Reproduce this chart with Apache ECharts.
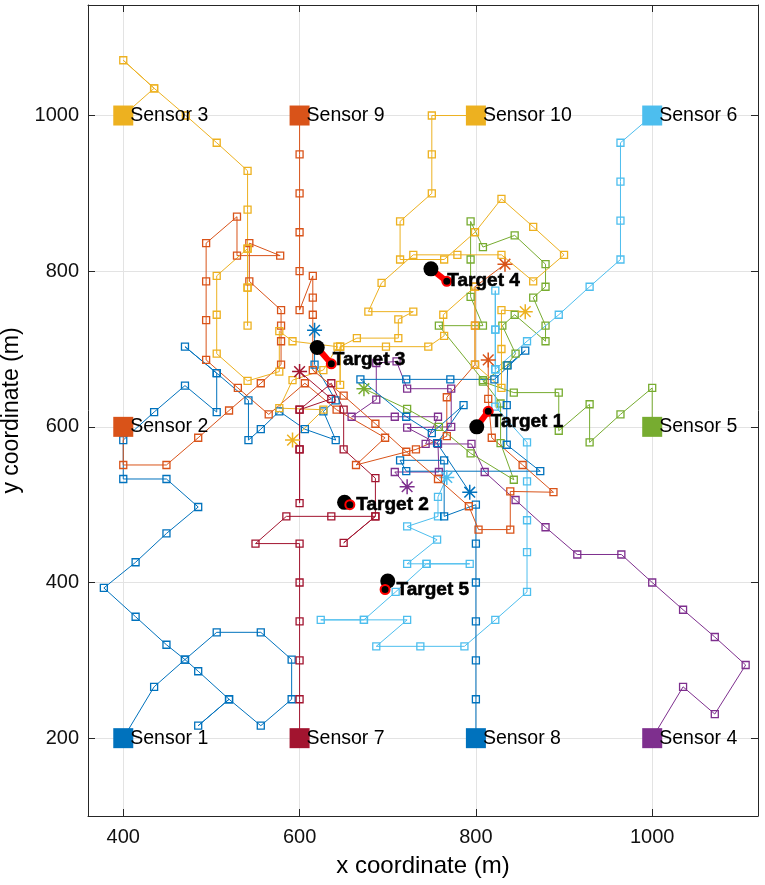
<!DOCTYPE html>
<html>
<head>
<meta charset="utf-8">
<script src="https://cdn.jsdelivr.net/npm/echarts@6/dist/echarts.min.js"></script>
<style>
html, body { margin: 0; padding: 0; background: #fff; }
#main { width: 765px; height: 885px; }
</style>
</head>
<body>
<div id="main"></div>
<script>
// 坐标轴刻度
var xTicks = [400, 600, 800, 1000];
var yTicks = [200, 400, 600, 800, 1000];

// 传感器位置
var sensorNames = ['Sensor 1', 'Sensor 2', 'Sensor 3', 'Sensor 4', 'Sensor 5',
	'Sensor 6', 'Sensor 7', 'Sensor 8', 'Sensor 9', 'Sensor 10'];
var sensorX = [400, 400, 400, 1000, 1000, 1000, 600, 800, 600, 800];
var sensorY = [200, 600, 1000, 200, 600, 1000, 200, 200, 1000, 1000];
var sensorColors = ['#0072BD', '#D95319', '#EDB120', '#7E2F8E', '#77AC30',
	'#4DBEEE', '#A2142F', '#0072BD', '#D95319', '#EDB120'];

// 传感器轨迹 (最后一个点为终点)
var path1 = [[400,200],[435,266],[470,301],[506,336],[556,336],[591,301],[591,250],[556,216],[520,250],[485,216],[520,250],[485,286],[470,301],[449,320],[414,356],[378,393],[414,426],[449,463],[485,497],[449,533],[400,533],[400,583],[435,619],[470,653],[506,619],[506,669],[470,703],[506,669],[542,634],[542,583],[556,597],[577,620],[606,597],[641,583],[627,620],[641,634],[617,680],[617,724]];
var path2 = [[400,600],[400,551],[449,551],[485,586],[520,621],[556,656],[579,680],[579,710],[579,730],[579,750],[543,787],[543,836],[578,820],[529,820],[529,870],[494,836],[494,787],[494,737],[494,686],[530,650],[565,616],[606,656],[642,622],[697,586],[664,551],[732,571],[767,588],[767,638],[799,680],[799,730],[799,780],[833,809]];
var path3 = [[400,1000],[435,1035],[400,1071],[435,1035],[471,1000],[506,965],[541,929],[541,879],[541,829],[541,779],[541,730],[541,779],[541,829],[506,794],[506,744],[506,694],[541,659],[577,671],[577,723],[592,710],[643,703],[627,673],[592,660],[577,624],[627,622],[592,583]];
var path4 = [[1000,200],[1035,266],[1071,231],[1106,294],[1071,330],[1035,365],[1000,400],[965,436],[915,436],[879,471],[845,506],[810,542],[795,578],[743,578],[757,613],[708,613],[659,613],[687,635],[687,682],[710,684],[722,649],[772,649],[772,600],[722,599],[757,578],[758,542],[708,542],[722,523]];
var path5 = [[1000,600],[1000,650],[964,616],[929,580],[929,629],[894,595],[894,644],[843,644],[808,658],[835,679],[845,694],[830,730],[844,744],[879,710],[879,730],[865,766],[879,780],[879,809],[844,846],[808,831],[794,864],[794,815],[794,767],[808,730],[758,730],[808,660],[828,630],[828,579],[843,532],[794,566],[758,600],[722,623],[673,649]];
var path6 = [[1000,1000],[964,965],[964,915],[964,865],[964,815],[929,780],[894,744],[858,710],[822,674],[822,725],[822,775],[822,725],[822,674],[822,626],[858,580],[858,530],[858,480],[858,439],[858,388],[822,352],[787,318],[737,318],[687,318],[722,352],[673,352],[624,352],[673,352],[709,388],[744,424],[793,424],[744,424],[722,424],[756,455],[722,472],[757,485],[757,510],[767,535]];
var path7 = [[600,200],[600,250],[600,300],[600,350],[600,400],[600,450],[550,450],[585,485],[636,485],[686,485],[650,451],[686,485],[686,534],[650,571],[650,622],[636,656],[600,622],[600,571],[600,502],[600,571],[600,622],[636,636],[600,671]];
var path8 = [[800,200],[800,250],[800,300],[800,350],[800,400],[800,450],[800,500],[764,485],[764,557],[714,557],[721,543],[873,543],[835,577],[835,628],[836,679],[856,698],[821,661],[771,661],[721,661],[669,661],[721,613],[750,592],[786,628],[756,579],[793,516]];
var path9 = [[600,1000],[600,950],[600,900],[600,850],[600,800],[600,750],[615,794],[615,766],[615,744],[615,673],[650,640],[686,604],[721,568],[757,533],[792,498],[803,468],[839,468],[839,517],[888,516],[853,551],[818,586],[814,636],[814,686]];
var path10 = [[800,1000],[750,1000],[750,950],[750,900],[714,864],[714,815],[764,815],[799,850],[829,893],[865,857],[900,821],[865,787],[829,821],[779,821],[729,821],[693,785],[678,748],[729,748],[712,738],[712,714],[665,714],[646,703],[646,654],[646,703],[698,703],[746,703],[764,717],[763,744],[799,780],[799,730],[799,680],[829,650],[829,700],[829,750],[856,748]];
var sensorPaths = [path1, path2, path3, path4, path5, path6, path7, path8, path9, path10];

// 目标: 起点(黑色) -> 终点(红色)
var targetNames = ['Target 1', 'Target 2', 'Target 3', 'Target 4', 'Target 5'];
var targetStart = [[801,600],[651,503],[620,702],[749,803],[700,402]];
var targetEnd = [[814,620],[657,500],[636,681],[767,787],[697,391]];
// 标签微调 (像素)
var targetLabelShift = [[-4, 10], [0, 0], [-5, -4], [-6, -1], [5, 0]];

var FONT = 'Liberation Sans, Arial, Helvetica, sans-serif';
var AXIS_COLOR = '#262626';
// 星号终点标记
var STAR = 'path://M-1,-10L1,-10L1,10L-1,10Z M-10,-1L10,-1L10,1L-10,1Z M-7.8,-6.4L-6.4,-7.8L7.8,6.4L6.4,7.8Z M6.4,-7.8L7.8,-6.4L-6.4,7.8L-7.8,6.4Z';

var chart = echarts.init(document.getElementById('main'));

var series = [];

// 轨迹线
for (var i = 0; i < sensorPaths.length; i++) {
	var c = sensorColors[i];
	var p = sensorPaths[i];
	var data = [];
	for (var k = 0; k < p.length; k++) {
		if (k == p.length - 1) {
			data.push({
				value: p[k],
				symbol: STAR,
				symbolSize: 15,
				itemStyle: { color: c, borderWidth: 0 }
			});
		} else {
			data.push({ value: p[k] });
		}
	}
	series.push({
		type: 'line',
		data: data,
		symbol: 'rect',
		symbolSize: 7,
		showAllSymbol: true,
		lineStyle: { color: c, width: 1 },
		itemStyle: { color: 'rgba(0,0,0,0)', borderColor: c, borderWidth: 1.3 },
		z: 2,
		animation: false,
		silent: true
	});
}

// 传感器
for (var i = 0; i < sensorNames.length; i++) {
	series.push({
		type: 'scatter',
		data: [[sensorX[i], sensorY[i], sensorNames[i]]],
		symbol: 'rect',
		symbolSize: 20,
		itemStyle: { color: sensorColors[i], opacity: 1 },
		label: {
			show: true,
			position: 'right',
			distance: -3,
			formatter: function(params) { return params.data[2]; },
			color: '#000',
			fontSize: 19.5,
			fontFamily: FONT
		},
		z: 5,
		animation: false,
		silent: true
	});
}

// 目标
for (var j = 0; j < targetNames.length; j++) {
	series.push({
		type: 'line',
		data: [targetStart[j], targetEnd[j]],
		symbol: 'none',
		lineStyle: { color: '#ff0000', width: 6 },
		z: 6,
		animation: false,
		silent: true
	});
	series.push({
		type: 'scatter',
		data: [targetStart[j]],
		symbol: 'circle',
		symbolSize: 15,
		itemStyle: { color: '#000', opacity: 1 },
		z: 6,
		animation: false,
		silent: true
	});
	series.push({
		type: 'scatter',
		data: [[targetEnd[j][0], targetEnd[j][1], targetNames[j]]],
		symbol: 'circle',
		symbolSize: 9,
		itemStyle: { color: '#000', borderColor: '#ff0000', borderWidth: 2, opacity: 1 },
		label: {
			show: true,
			position: 'right',
			distance: 1,
			offset: targetLabelShift[j],
			formatter: function(params) { return params.data[2]; },
			color: '#000',
			fontSize: 19,
			fontWeight: 'bold',
			fontFamily: FONT,
			textBorderColor: '#000',
			textBorderWidth: 0.6
		},
		z: 7,
		animation: false,
		silent: true
	});
}

function plainNum(v) { return String(v); }

var option = {
	backgroundColor: '#fff',
	animation: false,
	grid: { left: 88, right: 7, top: 5, bottom: 69, containLabel: false, outerBoundsMode: 'none' },
	xAxis: [{
		type: 'value', min: 360, max: 1120, position: 'bottom',
		name: 'x coordinate (m)', nameLocation: 'middle', nameGap: 38,
		nameTextStyle: { fontSize: 24, color: '#000', fontFamily: FONT },
		axisLine: { show: true, onZero: false, lineStyle: { color: AXIS_COLOR } },
		axisTick: { show: true, inside: true, length: 7, customValues: xTicks, lineStyle: { color: AXIS_COLOR } },
		axisLabel: { customValues: xTicks, formatter: plainNum, fontSize: 20, color: '#111', margin: 11, fontFamily: FONT },
		splitLine: { show: true, lineStyle: { color: '#e3e3e3' } }
	}, {
		type: 'value', min: 360, max: 1120, position: 'top',
		axisLine: { show: true, onZero: false, lineStyle: { color: AXIS_COLOR } },
		axisTick: { show: true, inside: true, length: 7, customValues: xTicks, lineStyle: { color: AXIS_COLOR } },
		axisLabel: { show: false },
		splitLine: { show: false }
	}],
	yAxis: [{
		type: 'value', min: 100, max: 1142, position: 'left',
		name: 'y coordinate (m)', nameLocation: 'middle', nameGap: 52,
		nameTextStyle: { fontSize: 23, color: '#000', fontFamily: FONT },
		axisLine: { show: true, onZero: false, lineStyle: { color: AXIS_COLOR } },
		axisTick: { show: true, inside: true, length: 7, customValues: yTicks, lineStyle: { color: AXIS_COLOR } },
		axisLabel: { customValues: yTicks, formatter: plainNum, fontSize: 20, color: '#111', margin: 9, fontFamily: FONT },
		splitLine: { show: true, lineStyle: { color: '#e3e3e3' } }
	}, {
		type: 'value', min: 100, max: 1142, position: 'right',
		axisLine: { show: true, onZero: false, lineStyle: { color: AXIS_COLOR } },
		axisTick: { show: true, inside: true, length: 7, customValues: yTicks, lineStyle: { color: AXIS_COLOR } },
		axisLabel: { show: false },
		splitLine: { show: false }
	}],
	series: series
};

chart.setOption(option);
</script>
</body>
</html>
